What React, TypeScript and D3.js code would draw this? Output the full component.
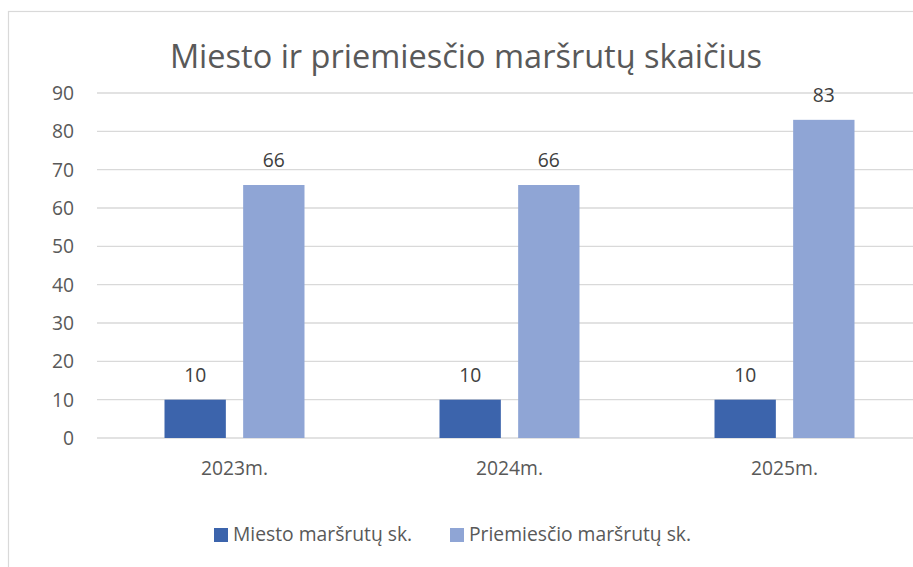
import React, { useRef, useEffect } from 'react';
import * as d3 from 'd3';

const years = ['2023m.', '2024m.', '2025m.'];
const seriesNames = ['Miesto maršrutų sk.', 'Priemiesčio maršrutų sk.'];
const miesto = [10, 10, 10];
const priemiescio = [66, 66, 83];
const yTicks = [0, 10, 20, 30, 40, 50, 60, 70, 80, 90];
const colors = ['#3C64AC', '#8FA5D5'];

const W = 913;
const H = 567;

export default function App() {
  const ref = useRef<SVGSVGElement>(null);

  useEffect(() => {
    const svg = d3.select(ref.current);
    svg.selectAll('*').remove();
    const font = '"Open Sans", sans-serif';
    const fs = 19.3;

    // chart frame
    svg.append('rect')
      .attr('x', 8.5).attr('y', 11.5)
      .attr('width', W + 20).attr('height', H + 20)
      .attr('fill', 'white').attr('stroke', '#D9D9D9').attr('stroke-width', 1.2);

    const y = d3.scaleLinear().domain([0, 90]).range([438, 93]);
    const x0 = d3.scaleBand().domain(years).range([97, 922]).padding(0);
    const groupW = 140;
    const x1 = d3.scaleBand().domain(seriesNames).range([0, groupW]).paddingInner(0.22);

    svg.append('text')
      .attr('x', 466).attr('y', 68)
      .attr('text-anchor', 'middle')
      .attr('font-family', font).attr('font-size', 32.5)
      .attr('fill', '#595959')
      .text('Miesto ir priemiesčio maršrutų skaičius');

    // gridlines
    svg.append('g').selectAll('line')
      .data(yTicks).enter().append('line')
      .attr('x1', 97).attr('x2', W + 10)
      .attr('y1', d => y(d)).attr('y2', d => y(d))
      .attr('stroke', '#D9D9D9').attr('stroke-width', 1.3);

    svg.append('g').selectAll('text')
      .data(yTicks).enter().append('text')
      .attr('x', 74).attr('y', d => y(d))
      .attr('dy', '0.36em')
      .attr('text-anchor', 'end')
      .attr('font-family', font).attr('font-size', fs)
      .attr('fill', '#595959')
      .text(d => d);

    const series = [miesto, priemiescio];
    series.forEach((vals, si) => {
      const g = svg.append('g');
      g.selectAll('rect')
        .data(vals).enter().append('rect')
        .attr('x', (d, i) => x0(years[i])! + (x0.bandwidth() - groupW) / 2 + x1(seriesNames[si])!)
        .attr('width', x1.bandwidth())
        .attr('y', d => y(d))
        .attr('height', d => y(0) - y(d))
        .attr('fill', colors[si]);
      g.selectAll('text')
        .data(vals).enter().append('text')
        .attr('x', (d, i) => x0(years[i])! + (x0.bandwidth() - groupW) / 2 + x1(seriesNames[si])! + x1.bandwidth() / 2)
        .attr('y', d => y(d) - 18)
        .attr('text-anchor', 'middle')
        .attr('font-family', font).attr('font-size', fs)
        .attr('fill', '#404040')
        .text(d => d);
    });

    // x labels
    svg.append('g').selectAll('text')
      .data(years).enter().append('text')
      .attr('x', d => x0(d)! + x0.bandwidth() / 2)
      .attr('y', 475)
      .attr('text-anchor', 'middle')
      .attr('font-family', font).attr('font-size', fs)
      .attr('fill', '#595959')
      .text(d => d);

    // legend
    const legX = [214, 450];
    const leg = svg.append('g');
    seriesNames.forEach((name, i) => {
      leg.append('rect')
        .attr('x', legX[i]).attr('y', 528)
        .attr('width', 14).attr('height', 14)
        .attr('fill', colors[i]);
      leg.append('text')
        .attr('x', legX[i] + 19).attr('y', 541)
        .attr('font-family', font).attr('font-size', fs)
        .attr('fill', '#595959')
        .text(name);
    });
  }, []);

  return (
    <svg ref={ref} width={W} height={H}
      style={{ position: 'absolute', left: 0, top: 0, display: 'block', background: 'white' }} />
  );
}
